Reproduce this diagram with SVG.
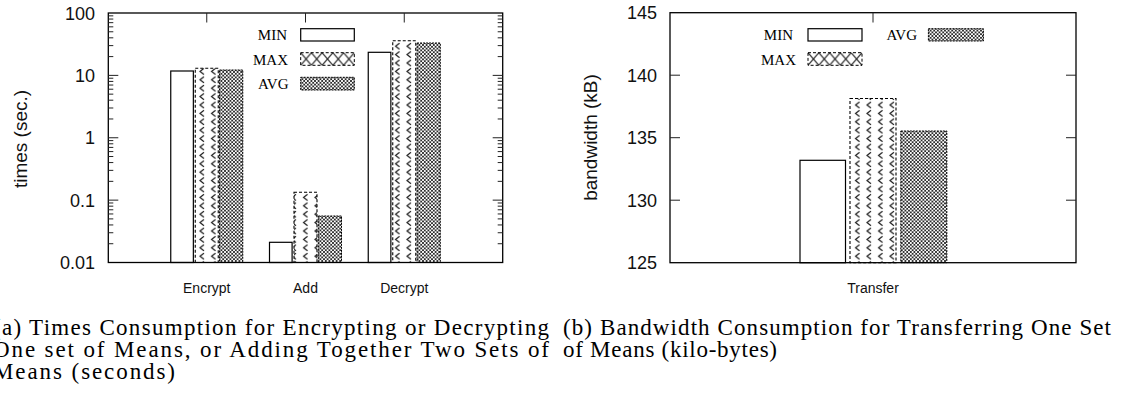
<svg xmlns="http://www.w3.org/2000/svg" width="1121" height="393" viewBox="0 0 1121 393">
<style>
.frame{fill:none;stroke:#000;stroke-width:1.3}
.tk{stroke:#222;stroke-width:1;fill:none}
.tl{font-family:"Liberation Sans",Arial,sans-serif;font-size:18px;fill:#111;text-anchor:end}
.al{font-family:"Liberation Sans",Arial,sans-serif;font-size:19px;fill:#111;text-anchor:middle}
.xl{font-family:"Liberation Sans",Arial,sans-serif;font-size:14px;fill:#111;text-anchor:middle}
.lg{font-family:"Liberation Serif","Times New Roman",serif;font-size:15px;fill:#000;text-anchor:end}
.cap{font-family:"Liberation Serif","Times New Roman",serif;font-size:23px;fill:#000}
.bmin{fill:#fff;stroke:#000;stroke-width:1.2}
.bmax{fill:url(#pMax);stroke:#000;stroke-width:1.1;stroke-dasharray:3 2}
.bavg{fill:url(#pAvg);stroke:#000;stroke-width:1;stroke-dasharray:2 1}
</style>
<defs>
<pattern id="pMax" patternUnits="userSpaceOnUse" width="11.5" height="8.4">
<rect width="11.5" height="8.4" fill="#fff"/>
<path d="M8.5 1.2 L4.5 4.2 L8.5 7.2" fill="none" stroke="#000" stroke-width="1"/>
</pattern>
<pattern id="pAvg" patternUnits="userSpaceOnUse" width="3.6" height="3.6">
<rect width="3.6" height="3.6" fill="#fff"/>
<path d="M0 0L3.6 3.6M3.6 0L0 3.6" stroke="#000" stroke-width="0.75"/>
</pattern>
<pattern id="pXL" patternUnits="userSpaceOnUse" x="300.7" y="52.7" width="10.72" height="12.6">
<rect width="10.72" height="12.6" fill="#fff"/>
<path d="M0 0L10.72 12.6M10.72 0L0 12.6" stroke="#000" stroke-width="1"/>
</pattern>
<pattern id="pXR" patternUnits="userSpaceOnUse" x="808" y="52.7" width="10.8" height="12.6">
<rect width="10.8" height="12.6" fill="#fff"/>
<path d="M0 0L10.8 12.6M10.8 0L0 12.6" stroke="#000" stroke-width="1"/>
</pattern>
</defs>
<rect width="1121" height="393" fill="#fff"/>

<g id="chart-a">
<g id="a-bars">
<rect class="bmin" x="170.75" y="71" width="22.6" height="191.5"/>
<rect class="bmax" x="195.25" y="68.3" width="23" height="194.2"/>
<rect class="bavg" x="219.55" y="70" width="23.2" height="192.5"/>
<rect class="bmin" x="269.5" y="242.3" width="22.6" height="20.2"/>
<rect class="bmax" x="294" y="192.3" width="23" height="70.2"/>
<rect class="bavg" x="318.3" y="216" width="23.2" height="46.5"/>
<rect class="bmin" x="368.25" y="52.3" width="22.6" height="210.2"/>
<rect class="bmax" x="392.75" y="40.7" width="23" height="221.8"/>
<rect class="bavg" x="417.05" y="43" width="23.2" height="219.5"/>
</g>
<g id="a-legend">
<text class="lg" x="287" y="39.5">MIN</text>
<rect class="bmin" x="300.7" y="28.7" width="53.6" height="12.3"/>
<text class="lg" x="288" y="64.5">MAX</text>
<rect x="300.7" y="52.7" width="53.6" height="12.6" fill="url(#pXL)" stroke="#000" stroke-width="1" stroke-dasharray="3 2"/>
<text class="lg" x="288.5" y="89">AVG</text>
<rect class="bavg" x="300.7" y="77.3" width="53.6" height="12.7"/>
</g>
<g id="a-axes">
<rect class="frame" x="108.3" y="13" width="394.4" height="249.5"/>
<path class="tk" d="M108.3 200.125H118.3M108.3 137.75H118.3M108.3 75.375H118.3M502.7 200.125H492.7M502.7 137.75H492.7M502.7 75.375H492.7
M108.3 243.72h5M108.3 232.74h5M108.3 224.95h5M108.3 218.9h5M108.3 213.96h5M108.3 209.79h5M108.3 206.17h5M108.3 202.98h5
M108.3 181.35h5M108.3 170.36h5M108.3 162.57h5M108.3 156.53h5M108.3 151.59h5M108.3 147.41h5M108.3 143.8h5M108.3 140.6h5
M108.3 118.97h5M108.3 107.99h5M108.3 100.2h5M108.3 94.15h5M108.3 89.21h5M108.3 85.04h5M108.3 81.42h5M108.3 78.23h5
M108.3 56.6h5M108.3 45.61h5M108.3 37.82h5M108.3 31.78h5M108.3 26.84h5M108.3 22.66h5M108.3 19.05h5M108.3 15.85h5
M502.7 243.72h-5M502.7 232.74h-5M502.7 224.95h-5M502.7 218.9h-5M502.7 213.96h-5M502.7 209.79h-5M502.7 206.17h-5M502.7 202.98h-5
M502.7 181.35h-5M502.7 170.36h-5M502.7 162.57h-5M502.7 156.53h-5M502.7 151.59h-5M502.7 147.41h-5M502.7 143.8h-5M502.7 140.6h-5
M502.7 118.97h-5M502.7 107.99h-5M502.7 100.2h-5M502.7 94.15h-5M502.7 89.21h-5M502.7 85.04h-5M502.7 81.42h-5M502.7 78.23h-5
M502.7 56.6h-5M502.7 45.61h-5M502.7 37.82h-5M502.7 31.78h-5M502.7 26.84h-5M502.7 22.66h-5M502.7 19.05h-5M502.7 15.85h-5
M206.75 13V22.5M305.5 13V22.5M404.25 13V22.5"/>
<text class="tl" x="95" y="19.5">100</text>
<text class="tl" x="95" y="81.8">10</text>
<text class="tl" x="95" y="144.2">1</text>
<text class="tl" x="95" y="206.6">0.1</text>
<text class="tl" x="95" y="269">0.01</text>
<text class="al" transform="translate(27,139) rotate(-90)">times (sec.)</text>
<text class="xl" x="206.75" y="293">Encrypt</text>
<text class="xl" x="305.5" y="293">Add</text>
<text class="xl" x="404.25" y="293">Decrypt</text>
</g>
</g>

<g id="chart-b">
<g id="b-bars">
<rect class="bmin" x="800" y="160.3" width="45.5" height="102.4"/>
<rect class="bmax" x="850" y="98.5" width="46" height="164.2"/>
<rect class="bavg" x="900.8" y="131" width="46" height="131.7"/>
</g>
<g id="b-legend">
<text class="lg" x="793" y="39.5">MIN</text>
<rect class="bmin" x="808" y="28.7" width="54" height="12.3"/>
<text class="lg" x="796" y="64.5">MAX</text>
<rect x="808" y="52.7" width="54" height="12.6" fill="url(#pXR)" stroke="#000" stroke-width="1" stroke-dasharray="3 2"/>
<text class="lg" x="917" y="39.5">AVG</text>
<rect class="bavg" x="928.4" y="28.7" width="55" height="12.3"/>
</g>
<g id="b-axes">
<rect class="frame" x="670" y="12.7" width="406" height="250"/>
<path class="tk" d="M670 75.2H680M670 137.7H680M670 200.2H680M1076 75.2H1066M1076 137.7H1066M1076 200.2H1066M873 12.7V22.5"/>
<text class="tl" x="657" y="19">145</text>
<text class="tl" x="657" y="81.6">140</text>
<text class="tl" x="657" y="144.1">135</text>
<text class="tl" x="657" y="206.6">130</text>
<text class="tl" x="657" y="269.1">125</text>
<text class="al" transform="translate(597,137.5) rotate(-90)">bandwidth (kB)</text>
<text class="xl" x="873" y="293">Transfer</text>
</g>
</g>

<g id="captions">
<text class="cap" x="-7" y="335" textLength="556" lengthAdjust="spacing">(a) Times Consumption for Encrypting or Decrypting</text>
<text class="cap" x="-7" y="357" textLength="556" lengthAdjust="spacing">One set of Means, or Adding Together Two Sets of</text>
<text class="cap" x="-7" y="379" textLength="182" lengthAdjust="spacing">Means (seconds)</text>
<text class="cap" x="563" y="335" textLength="548" lengthAdjust="spacing">(b) Bandwidth Consumption for Transferring One Set</text>
<text class="cap" x="563" y="357" textLength="214" lengthAdjust="spacing">of Means (kilo-bytes)</text>
</g>
</svg>
